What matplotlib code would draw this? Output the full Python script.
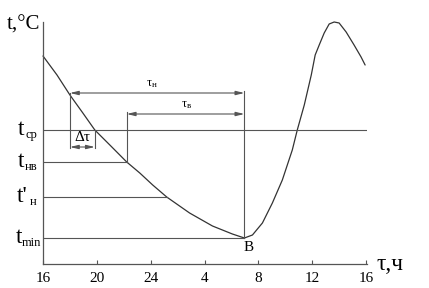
import numpy as np
import matplotlib
matplotlib.use('Agg')
import matplotlib.pyplot as plt

plt.rcParams['font.family'] = ['Liberation Serif', 'DejaVu Serif']
plt.rcParams['mathtext.fontset'] = 'custom'
plt.rcParams['mathtext.rm'] = 'Liberation Serif'
plt.rcParams['mathtext.it'] = 'Liberation Serif:italic'

## data (hours counted on from 16 h, temperature in arbitrary units)
curve_x = [16.00, 17.04, 18.00, 18.96, 19.85, 21.04, 22.22, 23.19, 24.15, 25.19,
           26.89, 28.59, 30.07, 30.96, 31.56, 32.30, 33.04, 33.78, 34.52, 34.89,
           35.41, 35.93, 36.22, 36.52, 36.89, 37.26, 37.63, 38.00, 38.52, 39.11,
           39.63, 39.93]
curve_y = [20.8, 18.9, 16.9, 15.1, 13.4, 11.8, 10.2, 9.1, 7.9, 6.7,
           5.1, 3.8, 3.0, 2.6, 2.9, 4.1, 6.1, 8.4, 11.4, 13.4,
           15.9, 18.9, 20.9, 21.9, 23.1, 24.0, 24.2, 24.1, 23.2, 21.9,
           20.7, 19.9]

tick_pos = [16, 20, 24, 28, 32, 36, 40]
tick_labels = ['16', '20', '24', '4', '8', '12', '16']

t_cp = 13.4
t_nv = 10.2
t_n1 = 6.7
t_min = 2.6

x_start = 18.0      # start of tau_n
x_cp = 19.85        # curve crosses t_cp
x_nv = 22.22        # curve crosses t_nv
x_n1 = 25.19        # curve crosses t'_n
x_B = 30.96         # minimum point B
y_tau_n = 17.1
y_tau_v = 15.0
y_dtau = 11.7

line_c = '#555555'
PX = 0.72  # points per pixel at dpi 100

fig = plt.figure(figsize=(4.29, 2.88), dpi=100)
ax = fig.add_axes([43/429, 24/288, 324/429, 242/288])
ax.set_xlim(16, 40.07)
ax.set_ylim(0, 24.2)

for s in ['top', 'right']:
    ax.spines[s].set_visible(False)
for s in ['left', 'bottom']:
    ax.spines[s].set_color(line_c)
    ax.spines[s].set_linewidth(0.9)

ax.set_xticks(tick_pos)
ax.set_xticklabels(tick_labels, fontsize=11)
ax.set_yticks([])
ax.tick_params(axis='x', direction='in', length=3, color=line_c, pad=6)

# curve
ax.plot(curve_x, curve_y, color='#333333', lw=0.9, clip_on=False,
        solid_joinstyle='round', solid_capstyle='round')

# horizontal levels
ax.plot([16, 40], [t_cp, t_cp], color=line_c, lw=0.8)
ax.plot([16, x_nv], [t_nv, t_nv], color=line_c, lw=0.8)
ax.plot([16, x_n1], [t_n1, t_n1], color=line_c, lw=0.8)
ax.plot([16, x_B], [t_min, t_min], color=line_c, lw=0.8)

# verticals
ax.plot([x_start, x_start], [y_tau_n, y_dtau - 0.1], color=line_c, lw=0.8)
ax.plot([x_cp, x_cp], [t_cp, y_dtau - 0.1], color=line_c, lw=0.8)
ax.plot([x_nv, x_nv], [y_tau_v + 0.2, t_nv], color=line_c, lw=0.8)
ax.plot([x_B, x_B], [y_tau_n + 0.2, t_min], color=line_c, lw=0.8)

arrow = dict(arrowstyle='<|-|>,head_length=0.5,head_width=0.12', color=line_c,
             lw=0.8, shrinkA=0, shrinkB=0)
ax.annotate('', xy=(x_start, y_tau_n), xytext=(x_B, y_tau_n), arrowprops=arrow)
ax.annotate('', xy=(x_nv, y_tau_v), xytext=(x_B, y_tau_v), arrowprops=arrow)
ax.annotate('', xy=(x_start, y_dtau), xytext=(x_cp, y_dtau), arrowprops=arrow)

ax.text(24.07, y_tau_n + 0.3, r'$\mathrm{\tau_{н}}$', fontsize=9, ha='center', va='bottom')
ax.text(26.67, y_tau_v + 0.3, r'$\mathrm{\tau_{в}}$', fontsize=9, ha='center', va='bottom')
ax.text((x_start + x_cp) / 2, y_dtau + 0.3, 'Δτ', fontsize=11,
        ha='center', va='bottom')


def level_label(y, base, sub, dx_base, dx_sub):
    ax.annotate(base, xy=(16, y), xytext=(dx_base * PX, -5 * PX),
                textcoords='offset points', fontsize=17, ha='right',
                va='baseline', annotation_clip=False)
    ax.annotate(sub, xy=(16, y), xytext=(dx_sub * PX, -8 * PX),
                textcoords='offset points', fontsize=9, ha='left',
                va='baseline', annotation_clip=False)


# labels on the left
level_label(t_cp, 't', 'ср', -19, -18)
level_label(t_nv, 't', 'нв', -19, -18)
level_label(t_n1, "t'", 'н', -15, -13)
level_label(t_min, 't', 'min', -21, -21)

ax.annotate('t,°C', xy=(16, 24.2), xytext=(-3 * PX, -8 * PX),
            textcoords='offset points', fontsize=15, ha='right',
            va='baseline', annotation_clip=False)

ax.text(x_B + 0.3, t_min - 0.3, 'B', fontsize=11, ha='center', va='top')
ax.annotate('τ,ч', xy=(40.8, 0), xytext=(0, -6 * PX),
            textcoords='offset points', fontsize=17, ha='left',
            va='baseline', annotation_clip=False)

fig.savefig('out.png', dpi=100)
